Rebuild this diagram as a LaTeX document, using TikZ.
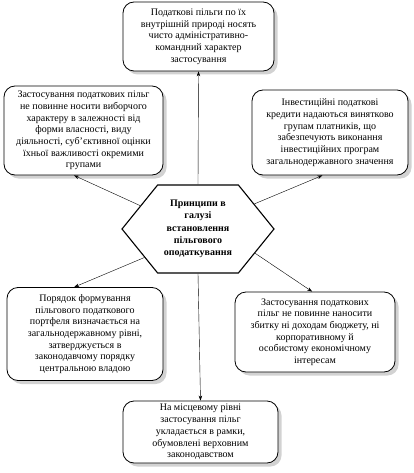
\documentclass[tikz,border=0pt]{standalone}
\usepackage{fontspec}
\setmainfont{Liberation Serif}
\usetikzlibrary{shapes.symbols,shadows,arrows.meta}

\begin{document}
\begin{tikzpicture}[x=1pt,y=-1pt,
    box/.style={draw,thick,rounded corners=11pt,fill=white,align=center,
      inner sep=2pt,font=\fontsize{10}{11.7}\selectfont,
      drop shadow={shadow xshift=3.5pt,shadow yshift=-3.5pt,fill=black!35}},
    hexa/.style={draw,line width=1.1pt,signal,signal to=west and east,
      signal pointer angle=102,inner sep=0pt,align=center,
      font=\fontsize{10}{12.4}\selectfont\bfseries},
    conn/.style={-{Stealth[length=5pt,width=3.5pt]}}]
  \useasboundingbox (0,0) rectangle (413,473);
  \node[hexa,minimum width=152pt,minimum height=88pt] (hex) at (198,229)
    {Принципи в\\галузі\\встановлення\\пільгового\\оподаткування};
  \node[box,minimum width=151pt,minimum height=69pt] (top) at (198.5,36.5)
    {Податкові пільги по їх\\внутрішній природі носять\\чисто адміністративно-\\командний характер\\застосування};
  \node[box,minimum width=159pt,minimum height=89pt] (ul) at (83.5,130.5)
    {Застосування податкових пільг\\не повинне носити виборчого\\характеру в залежності від\\форми власності, виду\\діяльності, суб'єктивної оцінки\\їхньої важливості окремими\\групами};
  \node[box,minimum width=156pt,minimum height=85pt] (ur) at (330,132.5)
    {Інвестиційні податкові\\кредити надаються винятково\\групам платників, що\\забезпечують виконання\\інвестиційних програм\\загальнодержавного значення};
  \node[box,minimum width=156pt,minimum height=93pt] (ll) at (85,334)
    {Порядок формування\\пільгового податкового\\портфеля визначається на\\загальнодержавному рівні,\\затверджується в\\законодавчому порядку\\центральною владою};
  \node[box,minimum width=160pt,minimum height=80pt] (lr) at (315,332)
    {Застосування податкових\\пільг не повинне наносити\\збитку ні доходам бюджету, ні\\корпоративному й\\особистому економічному\\інтересам};
  \node[box,minimum width=155pt,minimum height=62pt] (bot) at (200.5,432)
    {На місцевому рівні\\застосування пільг\\укладається в рамки,\\обумовлені верховним\\законодавством};
  % connectors
  \draw[conn] (hex.north) -- (top.south);
  \draw[conn] (hex.south) -- (bot.north);
  \foreach \a/\b/\c in {158/ul/258,24/ur/260,208/ll/103,337/lr/94}
    \draw[conn] (hex.\a) -- (\b.\c);
\end{tikzpicture}
\end{document}
